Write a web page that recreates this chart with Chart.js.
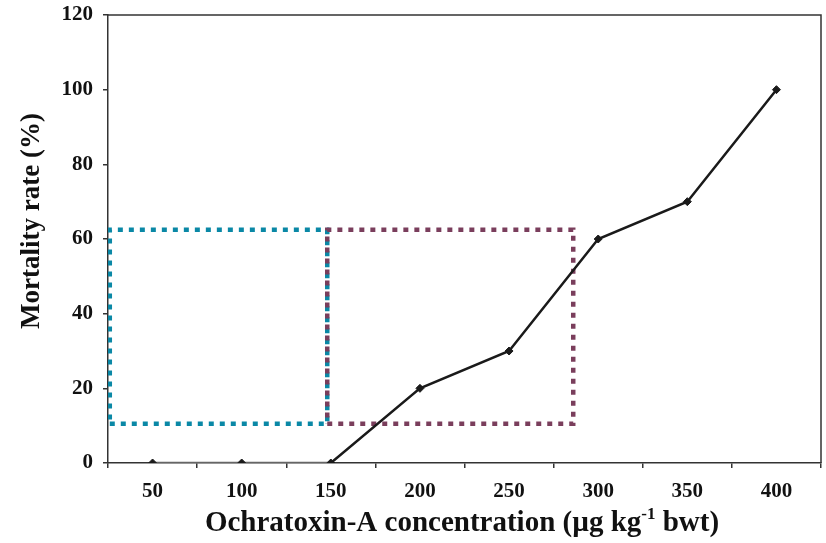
<!DOCTYPE html>
<html>
<head>
<meta charset="utf-8">
<script src="https://cdn.jsdelivr.net/npm/chart.js@4.4.1/dist/chart.umd.min.js"></script>
<style>
  html, body { margin: 0; padding: 0; background: #fff; }
  #wrap { width: 826px; height: 543px; }
</style>
</head>
<body>
<div id="wrap"><canvas id="c" width="826" height="543"></canvas></div>
<script>
// ---- data ----
const categories = ['50', '100', '150', '200', '250', '300', '350', '400'];
const mortality = [0, 0, 0, 20, 30, 60, 70, 100];
const yTicks = [0, 20, 40, 60, 80, 100, 120];
// highlighted regions (x in concentration units, y in %)
const tealBoxX = [26, 148];
const tealBoxY = [10.5, 62.5];
const purpleBoxX = [148, 286];
const purpleBoxY = [10.5, 62.5];
const xTitleMain = 'Ochratoxin-A concentration (µg kg';
const xTitleSup = '-1';
const xTitleEnd = ' bwt)';
const yTitle = 'Mortality rate (%)';

function boxPoints(xs, ys) {
  return [
    {x: xs[0], y: ys[0]}, {x: xs[1], y: ys[0]}, {x: xs[1], y: ys[1]},
    {x: xs[0], y: ys[1]}, {x: xs[0], y: ys[0]}
  ];
}

const FONT = '"Liberation Serif", "Times New Roman", serif';

const framePlugin = {
  id: 'frame',
  afterDraw(chart) {
    const ctx = chart.ctx, a = chart.chartArea;
    ctx.save();
    ctx.strokeStyle = '#333';
    ctx.lineWidth = 1.5;
    ctx.beginPath();
    ctx.moveTo(a.left, a.top);
    ctx.lineTo(a.right, a.top);
    ctx.lineTo(a.right, a.bottom);
    ctx.stroke();
    // x title with superscript
    ctx.fillStyle = '#111';
    const big = 'bold 29px ' + FONT, small = 'bold 17px ' + FONT;
    ctx.font = big;
    const w1 = ctx.measureText(xTitleMain).width;
    const w3 = ctx.measureText(xTitleEnd).width;
    ctx.font = small;
    const w2 = ctx.measureText(xTitleSup).width;
    const total = w1 + w2 + w3;
    let x = 462 - total / 2;
    const base = 531;
    ctx.textBaseline = 'alphabetic';
    ctx.textAlign = 'left';
    ctx.font = big; ctx.fillText(xTitleMain, x, base); x += w1;
    ctx.font = small; ctx.fillText(xTitleSup, x, base - 12); x += w2;
    ctx.font = big; ctx.fillText(xTitleEnd, x, base);
    // y title
    ctx.save();
    ctx.translate(39, 221);
    ctx.rotate(-Math.PI / 2);
    ctx.font = 'bold 27px ' + FONT;
    ctx.textAlign = 'center';
    ctx.fillText(yTitle, 0, 0);
    ctx.restore();
    ctx.restore();
  }
};

new Chart(document.getElementById('c'), {
  type: 'line',
  data: {
    labels: categories,
    datasets: [
      {
        label: 'Mortality',
        data: mortality,
        xAxisID: 'x',
        borderColor: '#1a1a1a',
        backgroundColor: '#1a1a1a',
        borderWidth: 2.5,
        pointStyle: 'rectRot',
        pointRadius: 4,
        pointBorderWidth: 1,
        tension: 0,
        order: 0,
        segment: {
          borderColor: c => (c.p0.parsed.y === 0 && c.p1.parsed.y === 0) ? '#666' : undefined
        }
      },
      {
        label: 'teal',
        data: boxPoints(tealBoxX, tealBoxY),
        xAxisID: 'xr',
        borderColor: '#0a88a6',
        borderWidth: 4.5,
        borderDash: [5, 6],
        borderCapStyle: 'butt',
        pointRadius: 0,
        tension: 0,
        order: 2
      },
      {
        label: 'purple',
        data: boxPoints(purpleBoxX, purpleBoxY),
        xAxisID: 'xr',
        borderColor: '#7a3e5c',
        borderWidth: 4.5,
        borderDash: [5, 6],
        borderCapStyle: 'butt',
        pointRadius: 0,
        tension: 0,
        order: 1
      }
    ]
  },
  options: {
    responsive: false,
    animation: false,
    layout: { padding: { left: 0, right: 5, top: 15, bottom: 0 } },
    plugins: { legend: { display: false }, tooltip: { enabled: false } },
    scales: {
      x: {
        type: 'category',
        offset: true,
        grid: { offset: true, drawOnChartArea: false, tickLength: 5, color: '#333', lineWidth: 1.5 },
        border: { color: '#333', width: 1.5 },
        ticks: { font: { family: FONT, size: 21, weight: 'bold' }, color: '#111', padding: 11, maxRotation: 0 },
        afterFit(s) { s.height = 80; s.paddingLeft = 0; s.paddingRight = 0; }
      },
      xr: {
        type: 'linear',
        display: false,
        min: 25,
        max: 425
      },
      y: {
        min: 0,
        max: 120,
        afterBuildTicks(s) { s.ticks = yTicks.map(v => ({ value: v })); },
        grid: { drawOnChartArea: false, tickLength: 5, color: '#333', lineWidth: 1.5 },
        border: { color: '#333', width: 1.5 },
        ticks: { font: { family: FONT, size: 21, weight: 'bold' }, color: '#111', padding: 10 },
        afterFit(s) { s.width = 108; s.paddingTop = 0; s.paddingBottom = 0; }
      }
    }
  },
  plugins: [framePlugin]
});
</script>
</body>
</html>
